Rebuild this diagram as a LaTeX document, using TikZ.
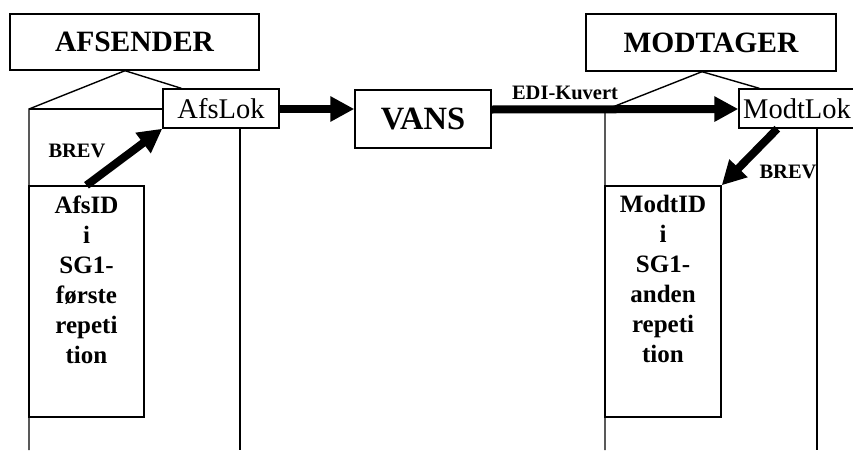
\documentclass[tikz,border=0pt]{standalone}
\usepackage{fontspec}
\setmainfont{Liberation Serif}
\usetikzlibrary{arrows.meta,calc}

\tikzset{
  thin line/.style={draw=black, line width=1.4pt},
  box/.style={draw=black, line width=1.4pt, rectangle, inner sep=0pt, fill=white},
  party/.style={box, font=\bfseries\fontsize{29.5}{34}\selectfont},
  loc/.style={box, font=\fontsize{28.5}{32}\selectfont},
  idbox/.style={box, minimum height=231pt},
  idtext/.style={anchor=north, inner sep=0pt, yshift=-10pt, align=center,
    font=\bfseries\fontsize{25}{30}\selectfont},
  flow/.style={line width=8pt, -{Triangle[length=24pt,width=24pt]}},
  tag/.style={font=\bfseries\fontsize{20.5}{24}\selectfont, inner sep=0pt}
}

\begin{document}
\begin{tikzpicture}[x=1pt,y=-1pt]
  \useasboundingbox (0,0) rectangle (853,450);
  \clip (0,0) rectangle (853,450);

  % the two parties
  \node[party, minimum width=249pt, minimum height=56pt] (afsender) at (134.5,42) {AFSENDER};
  \node[party, minimum width=250pt, minimum height=57pt] (modtager) at (711,42.5) {MODTAGER};

  % sender side frame
  \coordinate (atop) at ($(afsender.south)+(-9.5,0)$);
  \coordinate (aleft) at (29,109);
  \coordinate (abot) at (29,450);
  \coordinate (arbot) at (240,450);

  % receiver side frame
  \coordinate (mtop) at ($(modtager.south)+(-9,0)$);
  \coordinate (mleft) at (605,110);
  \coordinate (mbot) at (605,450);
  \coordinate (mrbot) at (817,450);

  % location boxes
  \node[loc, minimum width=116pt, minimum height=39pt] (afslok) at (221,108.5) {AfsLok};
  \node[loc, minimum width=116pt, minimum height=39pt] (modtlok) at (797,108.5) {ModtLok};

  \draw[thin line] (atop) -- (aleft) -- (abot);
  \draw[thin line] (aleft) -- (aleft -| afslok.west);
  \draw[thin line] (atop) -- ($(afslok.north west)+(19,0)$);
  \draw[thin line] (afslok.south -| arbot) -- (arbot);

  \draw[thin line] (mtop) -- (mleft) -- (mbot);
  \draw[thin line] (mtop) -- ($(modtlok.north west)+(21,0)$);
  \draw[thin line] (modtlok.south -| mrbot) -- (mrbot);

  % redraw the location boxes above the frame lines
  \node[loc, minimum width=116pt, minimum height=39pt] at (afslok) {AfsLok};
  \node[loc, minimum width=116pt, minimum height=39pt] at (modtlok) {ModtLok};

  % network
  \node[box, font=\bfseries\fontsize{32.5}{36}\selectfont, minimum width=136pt, minimum height=58pt] (vans) at (423,119) {VANS};

  % identification boxes
  \node[idbox, minimum width=115pt,
    label={[idtext]north:AfsID\\i\\SG1-\\første\\repeti\\tion}] (afsid) at (86.5,301.5) {};
  \node[idbox, minimum width=116pt,
    label={[idtext]north:ModtID\\i\\SG1-\\anden\\repeti\\tion}] (modtid) at (663,301.5) {};

  % message flow
  \coordinate (lokflow) at (afslok.east |- 0,109);
  \coordinate (vansin) at (vans.west |- 0,109);
  \coordinate (vansout) at (vans.east |- 0,109.5);
  \coordinate (modtin) at (modtlok.west |- 0,109);
  \coordinate (modtout) at ($(modtlok.south west)+(39,0)$);

  \draw[flow] (afsid.north) -- (afslok.south west);
  \draw[flow] (lokflow) -- (vansin);
  \draw[flow] (vansout) -- (modtin);
  \draw[flow] (modtout) -- (modtid.north east);

  % labels
  \node[tag] (brevA) at (77,151) {BREV};
  \node[tag] (edi) at (565,93) {EDI-Kuvert};
  \node[tag] (brevM) at (788,171.5) {BREV};
\end{tikzpicture}
\end{document}
